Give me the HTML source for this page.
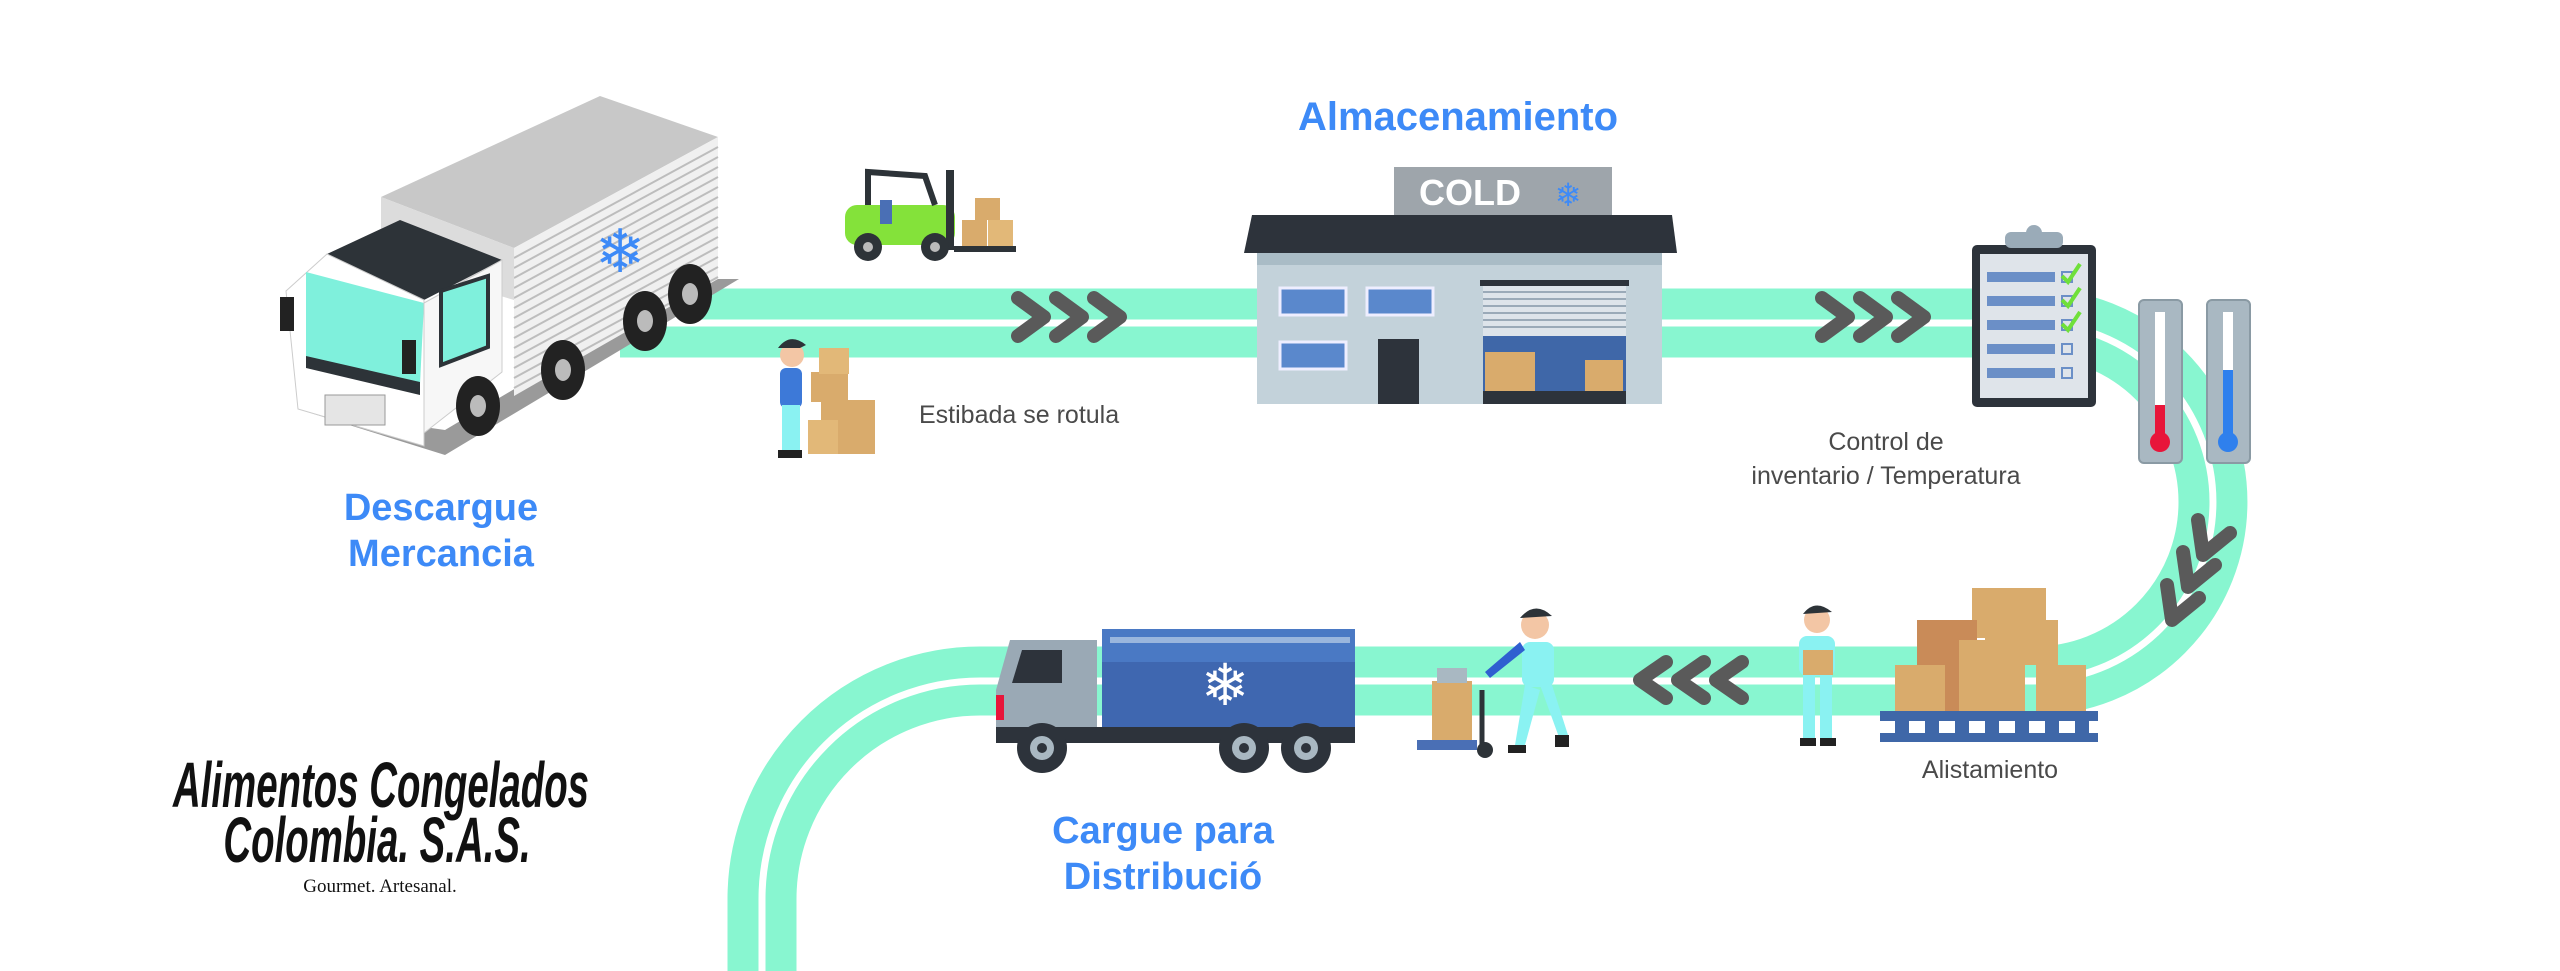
<!DOCTYPE html>
<html><head><meta charset="utf-8"><style>
html,body{margin:0;padding:0;background:#fff;}
body{width:2560px;height:971px;overflow:hidden;position:relative;font-family:"Liberation Sans",sans-serif;}
.h{position:absolute;color:#3d8af7;font-weight:bold;font-size:38px;text-align:center;line-height:46px;}
.t{position:absolute;color:#4a4a4a;font-size:25px;text-align:center;line-height:34px;}
.lg{position:absolute;white-space:nowrap;text-align:center;font-family:"Liberation Sans",sans-serif;font-style:italic;font-weight:bold;font-size:64px;line-height:56px;color:#111;transform:scaleX(0.6);transform-origin:center;}
</style></head><body>
<svg width="2560" height="971" style="position:absolute;left:0;top:0">
<g fill="none" stroke="#88f6d0" stroke-width="31">
<path d="M690 304 H2034 A198 198 0 0 1 2034 700 H980 A199 199 0 0 0 781 899 L781 1000"/>
<path d="M620 342 H2034 A160 160 0 0 1 2034 662 H980 A237 237 0 0 0 743 899 L743 1000"/>
</g>
<g fill="none" stroke="#5a5a5a" stroke-width="14" stroke-linecap="round" stroke-linejoin="round">
<polyline points="1018,298 1044,317 1018,336"/><polyline points="1056,298 1082,317 1056,336"/><polyline points="1094,298 1120,317 1094,336"/>
<polyline points="1822,298 1848,317 1822,336"/><polyline points="1860,298 1886,317 1860,336"/><polyline points="1898,298 1924,317 1898,336"/>
<polyline points="1666,662 1640,680 1666,698"/><polyline points="1704,662 1678,680 1704,698"/><polyline points="1742,662 1716,680 1742,698"/>
<polyline points="2198,520 2203,555 2230,533"/><polyline points="2183,552 2188,587 2215,565"/><polyline points="2167,585 2172,620 2199,598"/>
</g>
<polygon points="298,409 445,455 739,279 700,279 445,430" fill="#9a9a9a"/>
<polygon points="381,197 600,96 718,137 514,248" fill="#c8c8c8"/>
<polygon points="514,248 718,137 718,279 514,396" fill="#f0f0f0"/>
<g stroke="#bdbdbd" stroke-width="2">
<line x1="514" y1="258" x2="718" y2="147"/><line x1="514" y1="268" x2="718" y2="157"/><line x1="514" y1="278" x2="718" y2="167"/><line x1="514" y1="288" x2="718" y2="177"/><line x1="514" y1="298" x2="718" y2="187"/><line x1="514" y1="308" x2="718" y2="197"/><line x1="514" y1="318" x2="718" y2="207"/><line x1="514" y1="328" x2="718" y2="217"/><line x1="514" y1="338" x2="718" y2="227"/><line x1="514" y1="348" x2="718" y2="237"/><line x1="514" y1="358" x2="718" y2="247"/><line x1="514" y1="368" x2="718" y2="257"/><line x1="514" y1="378" x2="718" y2="267"/><line x1="514" y1="388" x2="718" y2="277"/>
</g>
<polygon points="381,197 514,248 514,300 381,260" fill="#dcdcdc"/>
<polygon points="327,254 400,220 502,260 424,300" fill="#2d3338"/>
<polygon points="286,291 327,254 424,300 424,446 298,409" fill="#ffffff" stroke="#ccc"/>
<polygon points="306,272 424,303 420,384 306,359" fill="#7ff0dc"/>
<polygon points="306,356 420,382 420,395 306,368" fill="#2d3338"/>
<polygon points="424,303 502,260 502,372 424,433" fill="#f7f7f7" stroke="#ccc"/>
<polygon points="441,291 488,276 488,347 441,365" fill="#7ff0dc" stroke="#2d3338" stroke-width="4"/>
<rect x="280" y="297" width="14" height="34" fill="#222"/>
<rect x="402" y="340" width="14" height="34" fill="#222"/>
<rect x="325" y="395" width="60" height="30" fill="#e5e5e5" stroke="#999"/>
<g fill="#222"><ellipse cx="478" cy="406" rx="22" ry="30"/><ellipse cx="563" cy="370" rx="22" ry="30"/><ellipse cx="645" cy="321" rx="22" ry="30"/><ellipse cx="690" cy="294" rx="22" ry="30"/></g>
<g fill="#bbb"><ellipse cx="478" cy="406" rx="8" ry="11"/><ellipse cx="563" cy="370" rx="8" ry="11"/><ellipse cx="645" cy="321" rx="8" ry="11"/><ellipse cx="690" cy="294" rx="8" ry="11"/></g>
<text x="620" y="272" font-size="60" fill="#3d8af7" text-anchor="middle" font-family="DejaVu Sans">❄</text>
<rect x="845" y="205" width="110" height="40" rx="12" fill="#84e23a"/>
<polyline points="868,205 868,172 925,176 935,205" fill="none" stroke="#2d3338" stroke-width="6"/>
<rect x="880" y="200" width="12" height="24" fill="#4a6fb5"/>
<rect x="946" y="170" width="8" height="80" fill="#2d3338"/>
<rect x="954" y="246" width="62" height="6" fill="#2d3338"/>
<rect x="975" y="198" width="25" height="22" fill="#d9ab6c"/><rect x="962" y="220" width="25" height="26" fill="#d9ab6c"/><rect x="988" y="220" width="25" height="26" fill="#e2b878"/>
<circle cx="868" cy="247" r="14" fill="#2d3338"/><circle cx="868" cy="247" r="5" fill="#bbb"/><circle cx="935" cy="247" r="14" fill="#2d3338"/><circle cx="935" cy="247" r="5" fill="#bbb"/>
<rect x="811" y="372" width="37" height="30" fill="#d9ab6c"/><rect x="819" y="348" width="30" height="26" fill="#e2b878"/><rect x="821" y="400" width="54" height="54" fill="#d9ab6c"/><rect x="808" y="420" width="30" height="34" fill="#e2b878"/>
<circle cx="792" cy="355" r="12" fill="#f3c6a5"/><path d="M778 348 Q790 332 806 345 L800 348 Z" fill="#2d3338"/>
<rect x="780" y="368" width="22" height="40" rx="6" fill="#3d79d8"/>
<rect x="782" y="405" width="18" height="47" fill="#8af2f2"/>
<rect x="778" y="450" width="24" height="8" fill="#222"/>
<rect x="1394" y="167" width="218" height="48" fill="#9ea5ab"/>
<text x="1470" y="205" font-size="36" font-weight="bold" fill="#fff" text-anchor="middle">COLD</text>
<text x="1568" y="206" font-size="32" fill="#3d8af7" text-anchor="middle" font-family="DejaVu Sans">❄</text>
<polygon points="1252,215 1672,215 1677,253 1244,253" fill="#2d333b"/>
<rect x="1257" y="253" width="405" height="151" fill="#c3d2da"/>
<rect x="1257" y="253" width="405" height="12" fill="#a9bcc6"/>
<g fill="#5a88cc" stroke="#eef" stroke-width="3"><rect x="1280" y="288" width="66" height="27"/><rect x="1367" y="288" width="66" height="27"/><rect x="1280" y="342" width="66" height="27"/></g>
<rect x="1378" y="339" width="41" height="65" fill="#2d333b"/>
<rect x="1480" y="280" width="149" height="6" fill="#2d333b"/>
<rect x="1483" y="286" width="143" height="50" fill="#dde4ea"/>
<g stroke="#9aaab8" stroke-width="2"><line x1="1483" y1="292" x2="1626" y2="292"/><line x1="1483" y1="299" x2="1626" y2="299"/><line x1="1483" y1="306" x2="1626" y2="306"/><line x1="1483" y1="313" x2="1626" y2="313"/><line x1="1483" y1="320" x2="1626" y2="320"/><line x1="1483" y1="327" x2="1626" y2="327"/></g>
<rect x="1483" y="336" width="143" height="55" fill="#3f67a8"/>
<rect x="1483" y="391" width="143" height="13" fill="#2d333b"/>
<rect x="1485" y="352" width="50" height="39" fill="#d9ab6c"/><rect x="1585" y="360" width="38" height="31" fill="#d9ab6c"/>
<rect x="1972" y="245" width="124" height="162" rx="5" fill="#2d333b"/>
<rect x="1980" y="254" width="108" height="144" fill="#dfe4ea"/>
<rect x="2005" y="232" width="58" height="16" rx="6" fill="#9aabb8"/><circle cx="2034" cy="233" r="8" fill="#9aabb8"/>
<g fill="#6b8fc7"><rect x="1987" y="272" width="68" height="10"/><rect x="1987" y="296" width="68" height="10"/><rect x="1987" y="320" width="68" height="10"/><rect x="1987" y="344" width="68" height="10"/><rect x="1987" y="368" width="68" height="10"/></g>
<g fill="none" stroke="#6b8fc7" stroke-width="2"><rect x="2062" y="272" width="10" height="10"/><rect x="2062" y="296" width="10" height="10"/><rect x="2062" y="320" width="10" height="10"/><rect x="2062" y="344" width="10" height="10"/><rect x="2062" y="368" width="10" height="10"/></g>
<g fill="none" stroke="#6fe03a" stroke-width="4"><polyline points="2062,276 2068,282 2080,264"/><polyline points="2062,300 2068,306 2080,288"/><polyline points="2062,324 2068,330 2080,312"/></g>
<rect x="2139" y="300" width="43" height="163" rx="5" fill="#a9b8c2" stroke="#8a9aa4" stroke-width="2"/>
<rect x="2207" y="300" width="43" height="163" rx="5" fill="#a9b8c2" stroke="#8a9aa4" stroke-width="2"/>
<rect x="2155" y="312" width="10" height="125" fill="#fff"/><rect x="2223" y="312" width="10" height="125" fill="#fff"/>
<rect x="2155" y="405" width="10" height="35" fill="#e8153a"/><circle cx="2160" cy="442" r="10" fill="#e8153a"/>
<rect x="2223" y="370" width="10" height="70" fill="#2f80ed"/><circle cx="2228" cy="442" r="10" fill="#2f80ed"/>
<rect x="1972" y="588" width="74" height="50" fill="#d9ab6c"/>
<rect x="1917" y="620" width="60" height="45" fill="#c98b58"/><rect x="1985" y="620" width="73" height="45" fill="#d9ab6c"/>
<rect x="1945" y="640" width="80" height="71" fill="#d9ab6c"/><rect x="1895" y="665" width="55" height="46" fill="#d9ab6c"/>
<rect x="2036" y="665" width="50" height="46" fill="#d9ab6c"/><rect x="1945" y="640" width="14" height="71" fill="#c98b58"/>
<rect x="1880" y="711" width="218" height="10" fill="#3f67a8"/>
<rect x="1880" y="733" width="218" height="9" fill="#3f67a8"/>
<g fill="#3f67a8"><rect x="1895" y="721" width="14" height="12"/><rect x="1925" y="721" width="14" height="12"/><rect x="1955" y="721" width="14" height="12"/><rect x="1985" y="721" width="14" height="12"/><rect x="2015" y="721" width="14" height="12"/><rect x="2045" y="721" width="14" height="12"/><rect x="2075" y="721" width="14" height="12"/></g>
<circle cx="1817" cy="620" r="13" fill="#f3c6a5"/><path d="M1803 614 Q1815 598 1832 612 Z" fill="#2d3338"/>
<rect x="1799" y="636" width="36" height="40" rx="8" fill="#8af2f2"/>
<rect x="1803" y="650" width="30" height="25" fill="#d9ab6c"/>
<rect x="1803" y="675" width="12" height="66" fill="#8af2f2"/><rect x="1820" y="675" width="12" height="66" fill="#8af2f2"/>
<rect x="1800" y="738" width="16" height="8" fill="#222"/><rect x="1820" y="738" width="16" height="8" fill="#222"/>
<rect x="1417" y="740" width="60" height="10" fill="#4a6fb5"/>
<rect x="1432" y="681" width="40" height="59" fill="#d9ab6c"/><rect x="1437" y="668" width="30" height="15" fill="#a9b8c2"/>
<line x1="1482" y1="690" x2="1482" y2="748" stroke="#2d3338" stroke-width="5"/><circle cx="1485" cy="750" r="8" fill="#2d3338"/>
<circle cx="1535" cy="625" r="14" fill="#f3c6a5"/><path d="M1520 618 Q1535 600 1552 616 Z" fill="#2d3338"/>
<rect x="1522" y="642" width="32" height="45" rx="8" fill="#8af2f2"/>
<polygon points="1525,650 1490,678 1485,672 1520,642" fill="#2f5fd0"/>
<polygon points="1525,685 1515,745 1525,745 1540,690" fill="#8af2f2"/><polygon points="1540,685 1560,740 1568,735 1552,685" fill="#8af2f2"/>
<rect x="1508" y="745" width="18" height="8" fill="#222"/><rect x="1555" y="735" width="14" height="12" fill="#222"/>
<polygon points="996,690 1010,640 1097,640 1097,727 996,727" fill="#9aa9b5"/>
<polygon points="1022,650 1062,650 1062,683 1012,683" fill="#2d333b"/>
<rect x="996" y="695" width="8" height="25" fill="#e8153a"/>
<rect x="1102" y="629" width="253" height="98" fill="#3f67b0"/>
<rect x="1102" y="629" width="253" height="33" fill="#4a79c4"/>
<rect x="1110" y="637" width="240" height="6" fill="#9ab6dd"/>
<text x="1225" y="705" font-size="58" fill="#fff" text-anchor="middle" font-family="DejaVu Sans">❄</text>
<rect x="996" y="727" width="359" height="16" fill="#2d333b"/>
<g fill="#2d333b"><circle cx="1042" cy="748" r="25"/><circle cx="1244" cy="748" r="25"/><circle cx="1306" cy="748" r="25"/></g>
<g fill="#a9b8c2"><circle cx="1042" cy="748" r="12"/><circle cx="1244" cy="748" r="12"/><circle cx="1306" cy="748" r="12"/></g>
<g fill="#2d333b"><circle cx="1042" cy="748" r="5"/><circle cx="1244" cy="748" r="5"/><circle cx="1306" cy="748" r="5"/></g>
</svg>
<div class="h" style="left:1258px;top:94px;width:400px;font-size:40px">Almacenamiento</div>
<div class="h" style="left:241px;top:485px;width:400px">Descargue<br>Mercancia</div>
<div class="h" style="left:963px;top:808px;width:400px">Cargue para<br>Distribució</div>
<div class="t" style="left:800px;top:398px;width:400px;text-align:left;padding-left:119px;box-sizing:border-box">Estibada se rotula</div>
<div class="t" style="left:1686px;top:425px;width:400px">Control de<br>inventario / Temperatura</div>
<div class="t" style="left:1790px;top:753px;width:400px">Alistamiento</div>
<div class="lg" style="left:31px;top:757px;width:700px">Alimentos Congelados</div>
<div class="lg" style="left:77px;top:812px;width:600px">Colombia. S.A.S.</div>
<div style="position:absolute;left:250px;top:876px;width:260px;text-align:center;font-family:'Liberation Serif',serif;font-size:19px;color:#111;white-space:nowrap">Gourmet. Artesanal.</div>
</body></html>
